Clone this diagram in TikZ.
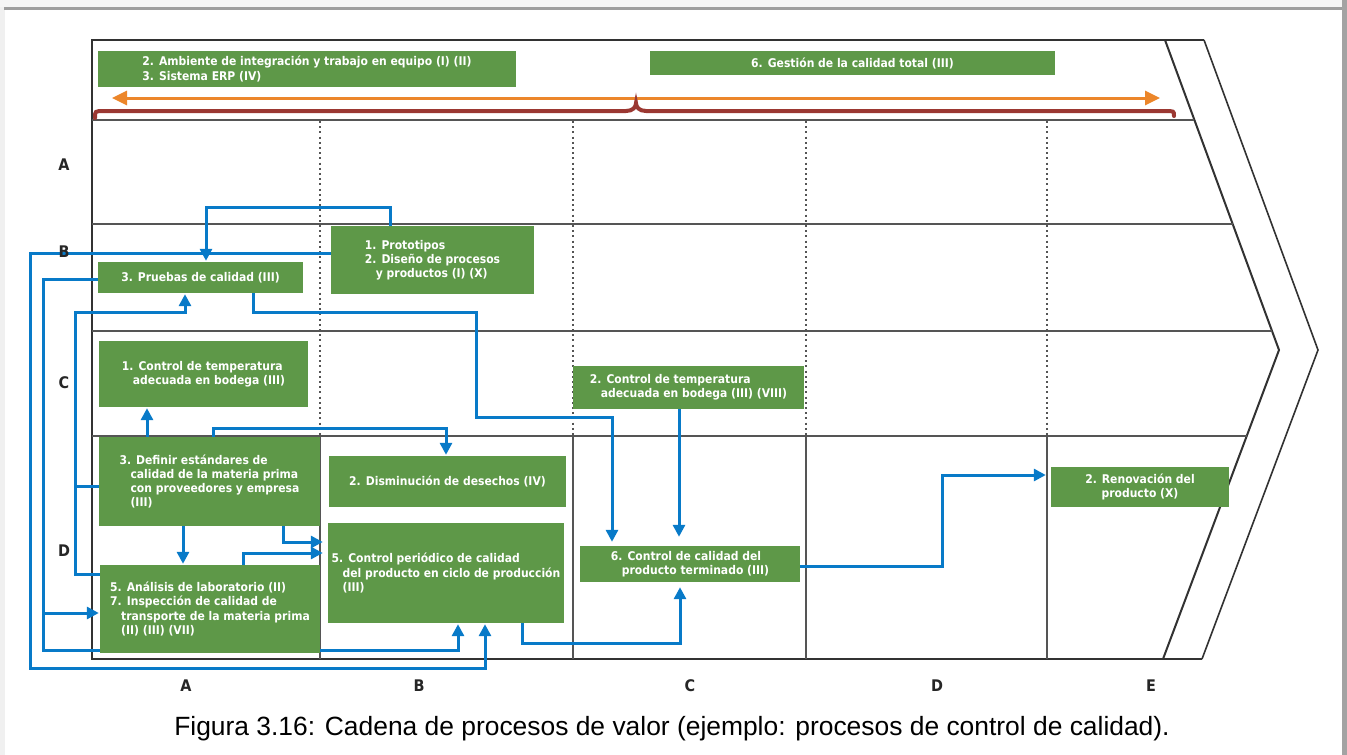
\documentclass[tikz,border=0pt]{standalone}
\usepackage{fontspec}
\setmainfont{Liberation Sans}
\newfontfamily\boxfont[FakeStretch=0.9]{DejaVu Sans}
\usetikzlibrary{arrows.meta}
\pgfdeclarelayer{page}
\pgfdeclarelayer{grid}
\pgfdeclarelayer{links}
\pgfsetlayers{page,grid,links,main}

\definecolor{boxgreen}{RGB}{94,152,72}
\definecolor{linkblue}{RGB}{8,122,200}
\definecolor{spanorange}{RGB}{236,134,42}
\definecolor{bracebrown}{RGB}{155,56,50}
\definecolor{frameline}{RGB}{50,50,50}
\definecolor{gridline}{RGB}{85,85,85}

\tikzset{
  gbox/.style={fill=boxgreen, text=white, inner sep=0pt, align=left,
    font=\boxfont\bfseries\fontsize{12}{14.2}\selectfont},
  link/.style={draw=linkblue, line width=3pt},
  linkarrow/.style={link, -{Triangle[length=12pt,width=12pt]}, shorten >=1pt},
  rowlabel/.style={font=\boxfont\bfseries\fontsize{16}{16}\selectfont, text=black!85},
  dots/.style={draw=gridline, line width=2pt, dash pattern=on 2pt off 3.2pt},
  hline/.style={draw=gridline, line width=1.8pt},
}
\newcommand{\ind}{\hspace*{11pt}}

\begin{document}
\begin{tikzpicture}[x=1pt,y=-1pt]
\useasboundingbox (0,0) rectangle (1347,755);

% page surroundings
\begin{pgfonlayer}{page}
  \fill[white] (0,0) rectangle (1347,755);
  \fill[black!6] (0,0) rectangle (5,755);
  \fill[black!4] (0,0) rectangle (1347,7);
  \draw[black!38, line width=2.5pt] (4,8.5) -- (1342,8.5);
  \fill[black!36] (1342,0) rectangle (1347,755);
\end{pgfonlayer}

% ---------- boxes ----------
\node[gbox, minimum width=418pt, minimum height=36pt] (ambiente) at (307,69)
  {2. Ambiente de integración y trabajo en equipo (I) (II)\\3. Sistema ERP (IV)};
\node[gbox, minimum width=405pt, minimum height=24pt] (gestion) at (852.5,63)
  {6. Gestión de la calidad total (III)};
\node[gbox, minimum width=203pt, minimum height=68pt] (proto) at (432.5,260)
  {1. Prototipos\\2. Diseño de procesos\\\ind y productos (I) (X)};
\node[gbox, minimum width=205pt, minimum height=31pt] (pruebas) at (200.5,277.5)
  {3. Pruebas de calidad (III)};
\node[gbox, minimum width=209pt, minimum height=66pt] (tempA) at (203.5,374)
  {1. Control de temperatura\\\ind adecuada en bodega (III)};
\node[gbox, minimum width=231pt, minimum height=43pt] (tempC) at (688.5,387.5)
  {2. Control de temperatura\\\ind adecuada en bodega (III) (VIII)};
\node[gbox, minimum width=221pt, minimum height=89pt] (definir) at (209.5,481.5)
  {3. Definir estándares de\\\ind calidad de la materia prima\\\ind con proveedores y empresa\\\ind (III)};
\node[gbox, minimum width=237pt, minimum height=51pt] (desechos) at (447.5,481.5)
  {2. Disminución de desechos (IV)};
\node[gbox, minimum width=236pt, minimum height=100pt] (periodico) at (446,573)
  {5. Control periódico de calidad\\\ind del producto en ciclo de producción\\\ind (III)};
\node[gbox, minimum width=220pt, minimum height=88pt] (analisis) at (210,609)
  {5. Análisis de laboratorio (II)\\7. Inspección de calidad de\\\ind transporte de la materia prima\\\ind (II) (III) (VII)};
\node[gbox, minimum width=220pt, minimum height=36pt] (terminado) at (690,564)
  {6. Control de calidad del\\\ind producto terminado (III)};
\node[gbox, align=center, minimum width=178pt, minimum height=40pt] (renov) at (1140,487)
  {2. Renovación del\\producto (X)};

% ---------- row and column labels ----------
\node[rowlabel] (rA) at (64,165) {A};
\node[rowlabel] (rB) at (64,252) {B};
\node[rowlabel] (rC) at (64,383) {C};
\node[rowlabel] (rD) at (64,551) {D};
\node[rowlabel] (cA) at (186,686) {A};
\node[rowlabel] (cB) at (419,686) {B};
\node[rowlabel] (cC) at (690,686) {C};
\node[rowlabel] (cD) at (937,686) {D};
\node[rowlabel] (cE) at (1151,686) {E};

\node[anchor=base, font=\fontsize{26.4}{28}\selectfont] (caption) at (672,735)
  {Figura 3.16: Cadena de procesos de valor (ejemplo: procesos de control de calidad).};

% ---------- frame, chevron and grid ----------
\begin{pgfonlayer}{grid}
  \draw[frameline, line width=2pt] (1204,40) -- (92,40) -- (92,659) -- (1202,659);
  \draw[frameline, line width=2pt] (1165,40) -- (1279,350) -- (1163,659);
  \draw[frameline, line width=1.6pt] (1204,40) -- (1318,350) -- (1202,659);
  \draw[hline] (92,120) -- (1194.4,120);
  \draw[hline] (92,224) -- (1232.7,224);
  \draw[hline] (92,331) -- (1272,331);
  \draw[hline] (92,436) -- (1246.7,436);
  \foreach \cx in {320,573,806,1047} {
    \draw[dots] (\cx,121) -- (\cx,436);
    \draw[gridline, line width=1.8pt] (\cx,436) -- (\cx,659);
  }
  % span of the support activities
  \draw[spanorange, line width=3pt,
    {Triangle[length=15pt,width=14pt]}-{Triangle[length=15pt,width=14pt]}]
    (112,98) -- (1160,98);
  \draw[bracebrown, line width=4pt, line cap=round]
    (95,118) .. controls (95,111) .. (104,111) -- (626,111)
    .. controls (633,111) and (636,107) .. (636,103)
    .. controls (636,107) and (639,111) .. (646,111) -- (1165,111)
    .. controls (1174,111) .. (1174,116);
\end{pgfonlayer}

% ---------- connectors ----------
\begin{pgfonlayer}{links}
  \draw[linkarrow] (proto.north -| 390,0) -- (390,207) -- (206,207) -- (pruebas.north -| 206,0);
  \draw[linkarrow] (proto.west |- 0,253) -- (30,253) -- (30,668) -- (485,668) -- (periodico.south -| 485,0);
  \draw[linkarrow] (pruebas.west |- 0,279) -- (43,279) -- (43,650) -- (458,650) -- (periodico.south -| 458,0);
  \draw[linkarrow] (pruebas.west |- 0,279) -- (43,279) -- (43,613) -- (analisis.west |- 0,613);
  \draw[linkarrow] (definir.west |- 0,486) -- (75,486) -- (75,312) -- (185,312) -- (pruebas.south -| 185,0);
  \draw[link] (analisis.west |- 0,574) -- (75,574) -- (75,486);
  \draw[linkarrow, shorten >=4pt] (pruebas.south -| 253,0) -- (253,312) -- (476,312) -- (476,417) -- (612,417) -- (terminado.north -| 612,0);
  \draw[linkarrow, shorten >=9pt] (tempC.south -| 679,0) -- (terminado.north -| 679,0);
  \draw[linkarrow] (definir.north -| 147,0) -- (tempA.south -| 147,0);
  \draw[linkarrow] (definir.north -| 213,0) -- (213,428) -- (446,428) -- (desechos.north -| 446,0);
  \draw[linkarrow] (definir.south -| 183,0) -- (analisis.north -| 183,0);
  \draw[linkarrow, shorten >=5pt] (definir.south -| 283,0) -- (283,542) -- (periodico.west |- 0,542);
  \draw[linkarrow, shorten >=5pt] (analisis.north -| 243,0) -- (243,553) -- (periodico.west |- 0,553);
  \draw[linkarrow, shorten >=5pt] (periodico.south -| 522,0) -- (522,643) -- (680,643) -- (terminado.south -| 680,0);
  \draw[linkarrow, shorten >=5pt] (terminado.east |- 0,566) -- (942,566) -- (942,475) -- (renov.west |- 0,475);
\end{pgfonlayer}
\end{tikzpicture}
\end{document}
